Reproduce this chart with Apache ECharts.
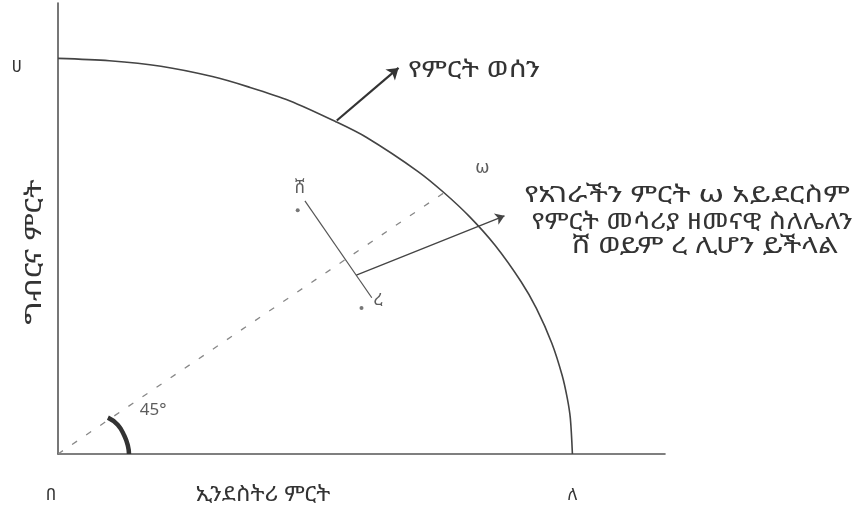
<!DOCTYPE html>
<html>
<head>
<meta charset="utf-8">
<title>የምርት ወሰን</title>
<script src="https://cdn.jsdelivr.net/npm/echarts@6/dist/echarts.min.js"></script>
<style>
  html, body { margin: 0; padding: 0; background: #fff; }
  #main { width: 863px; height: 514px; }
</style>
</head>
<body>
<div id="main"></div>
<script>
var FONT = '"Noto Sans Ethiopic", "Abyssinica SIL", "DejaVu Sans", "Noto Sans", sans-serif';
var INK = '#333';

// የምርት ወሰን (production frontier)
var curveX = [0, 10, 20, 30, 37, 45, 54, 60, 70, 75, 80, 85, 90, 93, 96, 98, 99, 99.6, 100];
var curveY = [100, 99.4, 98, 95.4, 92.8, 89.3, 84, 80, 71.4, 66.1, 60, 52.7, 43.6, 36.8, 28, 19.9, 14.1, 9, 0];
// 45° dashed ray from the origin to ω
var rayX = [0, 75];
var rayY = [0, 66];
// segment ሸ — ረ
var segX = [48, 61];
var segY = [64, 39.5];
// small marks near the segment ends
var tipX = [46.6, 59];
var tipY = [61.6, 36.9];
// arrow from the segment to the text, and arrow from the frontier to its name
var arrowA = [[58, 45.2], [86.8, 60.2]];
var arrowB = [[54.2, 84.3], [66.2, 97.6]];
// angle mark near the origin
var arcX = [9.7, 11.6, 12.9, 13.6, 13.8];
var arcY = [9.2, 7.4, 4.6, 2.0, 0];
// tick labels
var xTicks = { 0: '{o|በ}', 100: 'ለ' };
var yTicks = { 100: 'ሀ' };
// point labels
var pointLabels = [
    { name: 'ω', value: [82.5, 72.2] },
    { name: 'ሸ', value: [47, 67.3] },
    { name: 'ረ', value: [62.2, 38.8] },
    { name: '45°', value: [18.5, 11.2] }
];
var noteLines = ['የአገራችን ምርት ω አይደርስም', 'የምርት መሳሪያ ዘመናዊ ስለሌለን', 'ሸ ወይም ረ ሊሆን ይችላል'];

function pairs(xs, ys) {
    var out = [];
    for (var i = 0; i < xs.length; i++) out.push([xs[i], ys[i]]);
    return out;
}

// ጽሑፍ (text) in the wide typewriter look of the picture
function note(text, x, y, size, sx) {
    return {
        type: 'text', x: x, y: y, scaleX: sx, originX: 0,
        style: { text: text, fill: INK, font: size + 'px ' + FONT, textAlign: 'center', textVerticalAlign: 'middle' }
    };
}

var myChart = echarts.init(document.getElementById('main'));
var option = {
    animation: false,
    backgroundColor: '#fff',
    grid: { left: 58, right: 198, top: 3, bottom: 60 },
    xAxis: {
        type: 'value', min: 0, max: 118,
        splitLine: { show: false },
        axisTick: { show: false },
        axisLine: { lineStyle: { color: '#555', width: 1.6 } },
        axisLabel: {
            customValues: [0, 100],
            margin: 33,
            color: INK, fontSize: 17, fontFamily: FONT,
            rich: { o: { fontSize: 17, fontFamily: FONT, color: INK, padding: [0, 14, 0, 0] } },
            formatter: function (v) { return xTicks[v] || ''; }
        }
    },
    yAxis: {
        type: 'value', min: 0, max: 114,
        splitLine: { show: false },
        axisTick: { show: false },
        axisLine: { show: true, lineStyle: { color: '#555', width: 1.6 } },
        axisLabel: {
            customValues: [100],
            margin: 36,
            verticalAlign: 'top',
            color: INK, fontSize: 17, fontFamily: FONT,
            formatter: function (v) { return yTicks[v] || ''; }
        }
    },
    series: [
        {
            name: 'frontier', type: 'line', smooth: 0.3, symbol: 'none',
            lineStyle: { color: '#444', width: 1.6 },
            data: pairs(curveX, curveY)
        },
        {
            name: 'ray', type: 'line', symbol: 'none',
            lineStyle: { color: '#888', width: 1.3, type: [6, 11] },
            data: pairs(rayX, rayY)
        },
        {
            name: 'segment', type: 'line', symbol: 'none',
            lineStyle: { color: '#555', width: 1.2 },
            data: pairs(segX, segY)
        },
        {
            name: 'tips', type: 'scatter', symbol: 'circle', symbolSize: 4,
            itemStyle: { color: '#555' },
            data: pairs(tipX, tipY)
        },
        {
            name: 'arc', type: 'line', smooth: true, symbol: 'none',
            lineStyle: { color: '#333', width: 4.5 },
            data: pairs(arcX, arcY)
        },
        {
            name: 'arrows', type: 'line', symbol: 'none', data: [],
            markLine: {
                silent: true,
                symbol: ['none', 'arrow'],
                label: { show: false },
                data: [
                    [{ coord: arrowA[0], symbolSize: 0, lineStyle: { color: '#444', width: 1.3, type: 'solid' } },
                     { coord: arrowA[1], symbolSize: 9 }],
                    [{ coord: arrowB[0], symbolSize: 0, lineStyle: { color: '#333', width: 2.2, type: 'solid', curveness: 0.12 } },
                     { coord: arrowB[1], symbolSize: 11 }]
                ]
            }
        },
        {
            name: 'labels', type: 'scatter', symbolSize: 0,
            label: {
                show: true, position: 'inside', color: INK,
                fontSize: 17, fontFamily: FONT,
                formatter: '{b}'
            },
            data: pointLabels
        }
    ],
    graphic: [
        note('የምርት ወሰን', 474, 70, 23, 1.27),
        note(noteLines[0], 687, 195, 23, 1.33),
        note(noteLines[1], 692, 222, 23, 1.21),
        note(noteLines[2], 705, 246, 23, 1.3),
        note('ኢንደስትሪ ምርት', 263, 495, 21, 1.12),
        {
            type: 'text', x: 35, y: 252, rotation: Math.PI / 2, scaleX: 1.42,
            style: { text: 'ግብርና ምርት', fill: INK, font: '22px ' + FONT, textAlign: 'center', textVerticalAlign: 'middle' }
        }
    ]
};
myChart.setOption(option);
</script>
</body>
</html>
